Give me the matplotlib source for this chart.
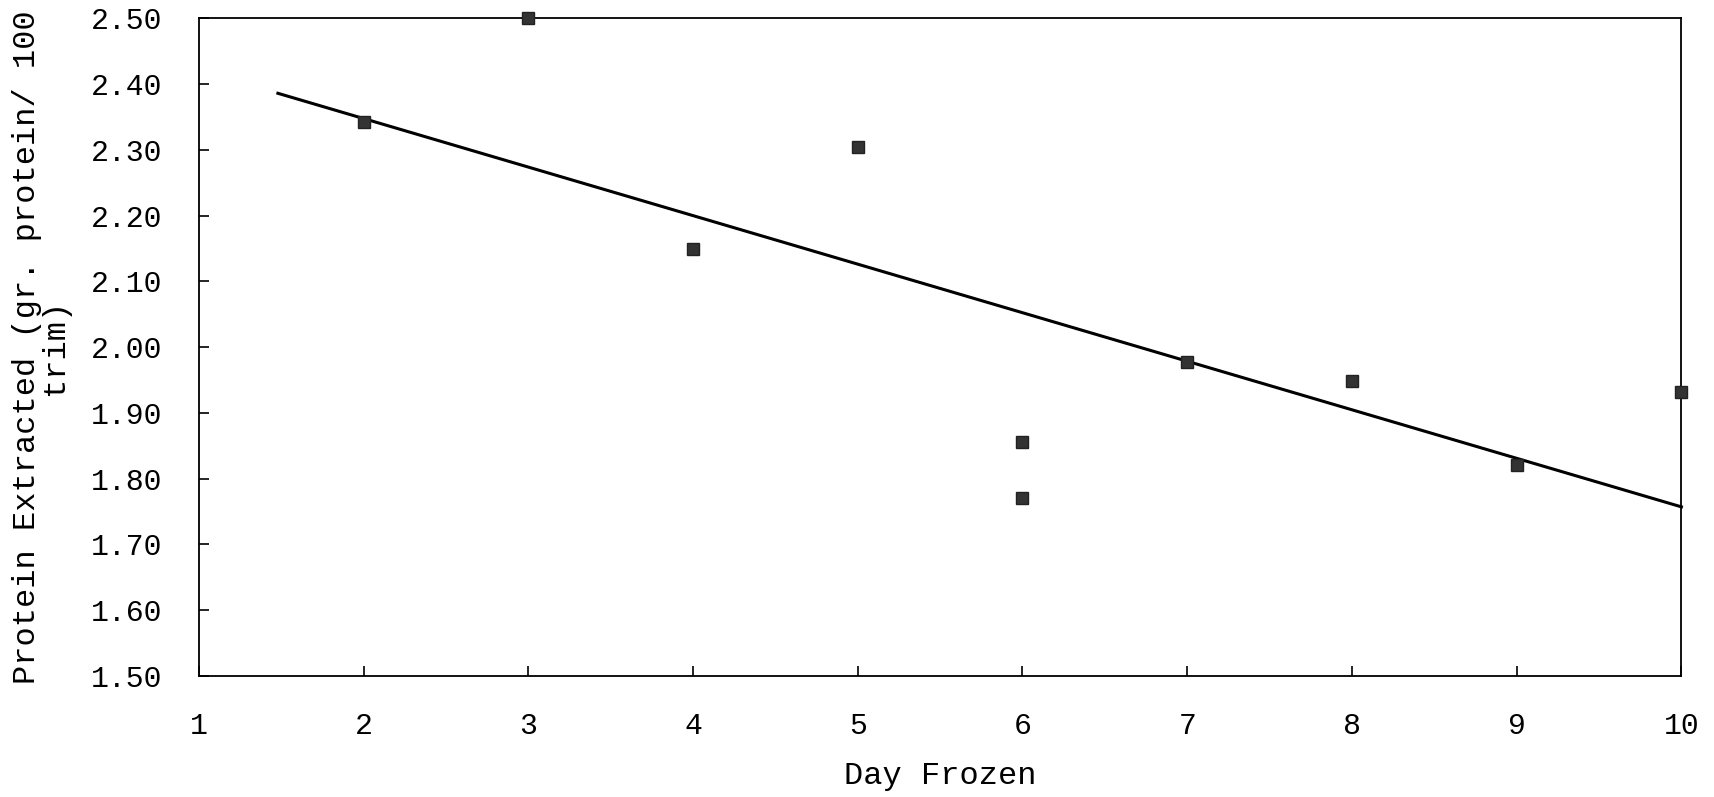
import numpy as np
import matplotlib
matplotlib.use('Agg')
import matplotlib.pyplot as plt
from matplotlib.ticker import FormatStrFormatter

# 冷凍日数とタンパク質抽出量
day = [2, 3, 4, 5, 6, 6, 7, 8, 9, 10]
protein = [2.342, 2.50, 2.149, 2.305, 1.856, 1.771, 1.978, 1.949, 1.821, 1.931]

# 回帰直線の端点
trend_x = [1.48, 10]
trend_y = [2.386, 1.757]

x_ticks = [1, 2, 3, 4, 5, 6, 7, 8, 9, 10]
y_ticks = [1.5, 1.6, 1.7, 1.8, 1.9, 2.0, 2.1, 2.2, 2.3, 2.4, 2.5]

plt.rcParams['font.family'] = ['Liberation Mono', 'DejaVu Sans Mono']

fig = plt.figure(figsize=(17.14, 7.97), dpi=100)
ax = fig.add_axes([0.116, 0.152, 0.865, 0.825])

ax.plot(trend_x, trend_y, color='black', linewidth=2.2, clip_on=False)
ax.plot(day, protein, linestyle='none', marker='s', markersize=8.5,
        color='#333333', markeredgecolor='#222222', clip_on=False, zorder=3)

ax.set_xlim(1, 10)
ax.set_ylim(1.5, 2.5)
ax.set_xticks(x_ticks)
ax.set_yticks(y_ticks)
ax.yaxis.set_major_formatter(FormatStrFormatter('%.2f'))
ax.tick_params(direction='in', length=7, width=1.2, labelsize=21.5, colors='black')
ax.tick_params(axis='y', pad=26)
ax.tick_params(axis='x', pad=26)
for s in ax.spines.values():
    s.set_linewidth(1.3)

ax.set_xlabel('Day Frozen', fontsize=23, labelpad=15)
ax.set_ylabel('Protein Extracted (gr. protein/ 100\ntrim)', fontsize=23,
              linespacing=0.9)
ax.yaxis.set_label_coords(-0.087, 0.5)

fig.savefig('out.png', dpi=100)
